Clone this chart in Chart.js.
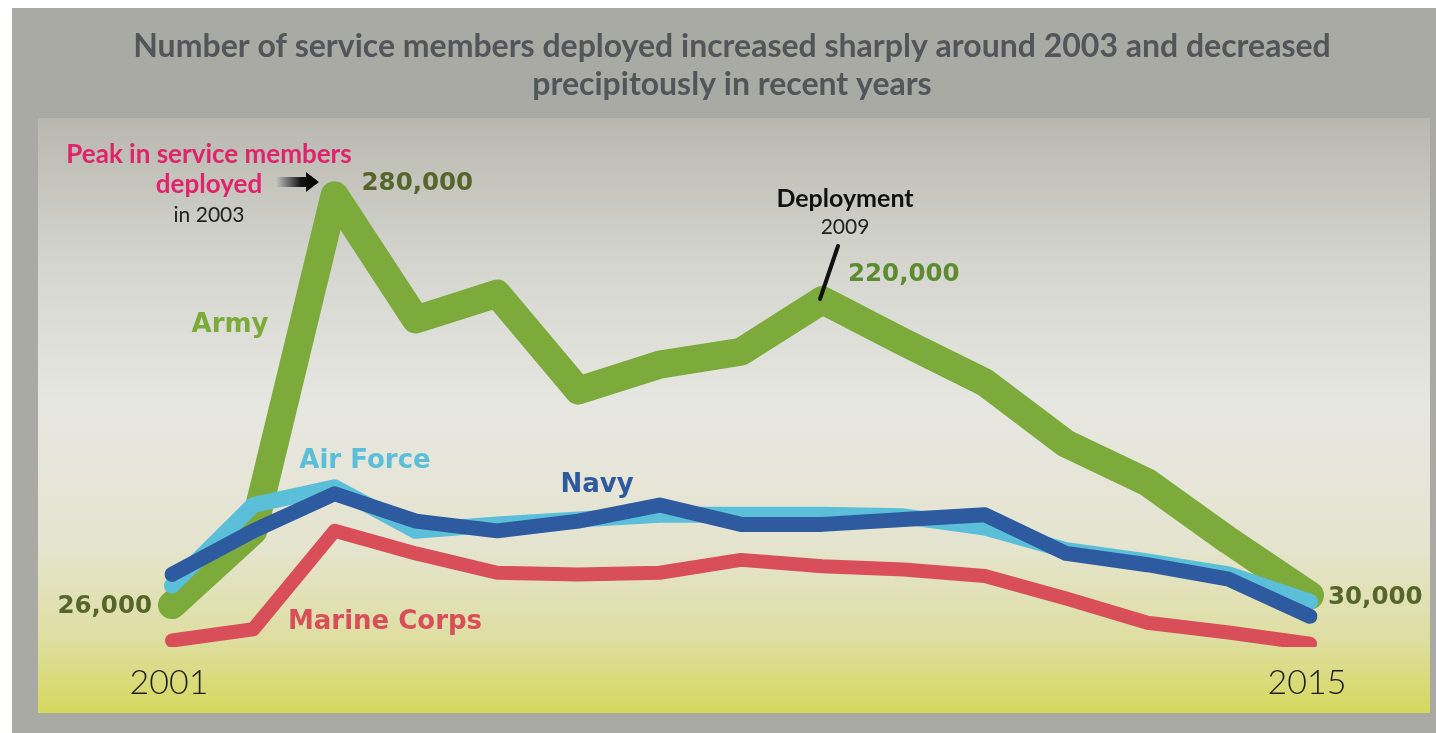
<!DOCTYPE html>
<html>
<head>
<meta charset="utf-8">
<script src="https://cdn.jsdelivr.net/npm/chart.js@4"></script>
<style>
  html, body { margin: 0; padding: 0; background: #ffffff; }
  canvas { display: block; }
</style>
</head>
<body>
<canvas id="deployChart" width="1436" height="733"></canvas>
<script>
// Service members deployed, by branch
const years = ['2001', '2002', '2003', '2004', '2005', '2006', '2007', '2008',
               '2009', '2010', '2011', '2012', '2013', '2014', '2015'];

const army = [26000, 72000, 280000, 203000, 219000, 159000, 175000, 183000,
              215000, 189000, 164000, 126000, 102000, 66000, 32000];
const airForce = [38000, 88000, 99000, 72000, 76000, 79000, 82000, 82000,
                  82000, 81000, 74000, 60000, 53000, 45000, 28000];
const navy = [45000, 72000, 95000, 78000, 72000, 78000, 88000, 76000,
              76000, 79000, 82000, 58000, 51000, 42000, 19000];
const marineCorps = [4000, 11000, 72000, 58000, 46000, 45000, 46000, 54000,
                     50000, 48000, 44000, 30000, 15000, 9000, 2000];

const yearTicks = ['2001', '2015'];
const titleLines = [
    'Number of service members deployed increased sharply around 2003 and decreased',
    'precipitously in recent years'
];

const colors = {
    army: '#7caa3b',
    armyDark: '#56662a',
    armyMid: '#5e8b2f',
    airForce: '#5bbfd9',
    navy: '#2e5a9f',
    marine: '#d84f5a',
    pink: '#e0236a',
    title: '#525559',
    frame: '#aaaaa4'
};

const FONT = 'Lato, "Open Sans", sans-serif';
const BOLD = 'bold 26px "DejaVu Sans", sans-serif';
const NUM = 'bold 24.5px "DejaVu Sans", sans-serif';

function text(ctx, str, x, y, font, color, align) {
    ctx.font = font;
    ctx.fillStyle = color;
    ctx.textAlign = align || 'left';
    ctx.textBaseline = 'middle';
    ctx.fillText(str, x, y);
}

const infographicPlugin = {
    id: 'infographic',
    beforeDraw(chart) {
        const ctx = chart.ctx;
        ctx.save();
        ctx.fillStyle = '#ffffff';
        ctx.fillRect(0, 0, chart.width, chart.height);
        ctx.fillStyle = colors.frame;
        ctx.fillRect(12, 8, chart.width - 12, chart.height - 8);

        // inner panel with grey -> white -> yellow gradient
        const g = ctx.createLinearGradient(0, 118, 0, 713);
        g.addColorStop(0, '#b8b8b1');
        g.addColorStop(0.25, '#d6d6d0');
        g.addColorStop(0.48, '#e7e7e2');
        g.addColorStop(0.72, '#e5e4cf');
        g.addColorStop(0.88, '#dedea0');
        g.addColorStop(1, '#d5d85c');
        ctx.fillStyle = g;
        ctx.fillRect(38, 118, 1392, 595);

        // title
        text(ctx, titleLines[0], 732, 47, 'bold 32px ' + FONT, colors.title, 'center');
        text(ctx, titleLines[1], 732, 85, 'bold 32px ' + FONT, colors.title, 'center');
        ctx.restore();
    },
    afterDatasetsDraw(chart) {
        const ctx = chart.ctx;
        const xs = chart.scales.x;
        const ys = chart.scales.y;
        const px = i => xs.getPixelForValue(i);
        const py = v => ys.getPixelForValue(v);
        ctx.save();

        // year labels at both ends of the x scale
        yearTicks.forEach(y => {
            const i = years.indexOf(y);
            text(ctx, y, px(i) - 3, 683, '300 34px ' + FONT, '#1c1c1c', 'center');
        });

        // peak annotation
        text(ctx, 'Peak in service members', 209, 155, 'bold 26px ' + FONT, colors.pink, 'center');
        text(ctx, 'deployed', 209, 185, 'bold 26px ' + FONT, colors.pink, 'center');
        text(ctx, 'in 2003', 209, 215, '21px ' + FONT, '#222222', 'center');

        // gradient arrow pointing at the peak
        const ay = 182;
        const ag = ctx.createLinearGradient(276, 0, 318, 0);
        ag.addColorStop(0, 'rgba(0,0,0,0)');
        ag.addColorStop(0.6, 'rgba(0,0,0,0.9)');
        ag.addColorStop(1, '#000000');
        ctx.fillStyle = ag;
        ctx.beginPath();
        ctx.moveTo(276, ay - 5);
        ctx.lineTo(306, ay - 5);
        ctx.lineTo(306, ay - 10);
        ctx.lineTo(319, ay);
        ctx.lineTo(306, ay + 10);
        ctx.lineTo(306, ay + 5);
        ctx.lineTo(276, ay + 5);
        ctx.closePath();
        ctx.fill();

        text(ctx, '280,000', px(2) + 27, py(army[2]) - 12, NUM, colors.armyDark);
        text(ctx, 'Army', 230, 325, BOLD, colors.army, 'center');

        // 2009 annotation
        text(ctx, 'Deployment', 845, 199, 'bold 25px ' + FONT, '#111111', 'center');
        text(ctx, '2009', 845, 227, '21px ' + FONT, '#222222', 'center');
        ctx.strokeStyle = '#111111';
        ctx.lineWidth = 4;
        ctx.lineCap = 'round';
        ctx.beginPath();
        ctx.moveTo(838, 246);
        ctx.lineTo(820, 299);
        ctx.stroke();
        text(ctx, '220,000', 848, 275, NUM, colors.armyMid);

        // series names
        text(ctx, 'Air Force', 365, 461, BOLD, colors.airForce, 'center');
        text(ctx, 'Navy', 597, 485, BOLD, colors.navy, 'center');
        text(ctx, 'Marine Corps', 385, 622, BOLD, colors.marine, 'center');

        // end values
        text(ctx, '26,000', px(0) - 20, py(army[0]) + 2, NUM, colors.armyDark, 'right');
        text(ctx, '30,000', px(14) + 18, py(army[14]) + 2, NUM, colors.armyDark);

        ctx.restore();
    }
};

function lineSet(label, data, color, width, order) {
    return {
        label: label,
        data: data,
        borderColor: color,
        borderWidth: width,
        borderCapStyle: 'round',
        borderJoinStyle: 'round',
        pointRadius: 0,
        pointHoverRadius: 0,
        tension: 0,
        fill: false,
        order: order
    };
}

new Chart(document.getElementById('deployChart'), {
    type: 'line',
    data: {
        labels: years,
        datasets: [
            lineSet('Army', army, colors.army, 28, 4),
            lineSet('Air Force', airForce, colors.airForce, 16, 3),
            lineSet('Navy', navy, colors.navy, 15, 2),
            lineSet('Marine Corps', marineCorps, colors.marine, 14, 1)
        ]
    },
    options: {
        responsive: false,
        animation: false,
        layout: {
            padding: { left: 172, right: 126, top: 163, bottom: 86 }
        },
        plugins: {
            legend: { display: false },
            tooltip: { enabled: false },
            title: { display: false }
        },
        scales: {
            x: { display: false },
            y: { display: false, min: 0, max: 300000 }
        }
    },
    plugins: [infographicPlugin]
});
</script>
</body>
</html>
